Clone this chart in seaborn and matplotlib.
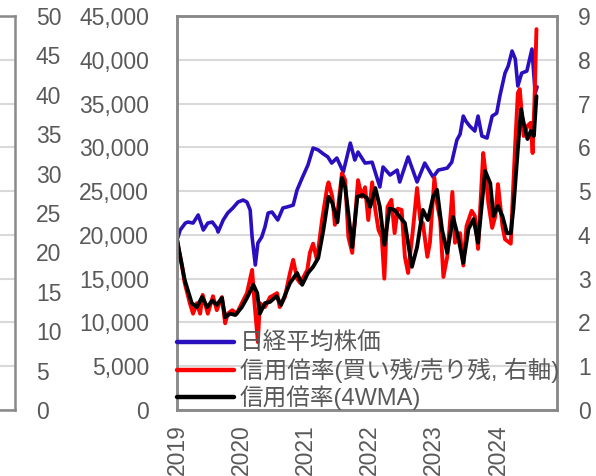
import matplotlib
matplotlib.use("Agg")
import matplotlib.pyplot as plt
import seaborn as sns
from matplotlib.ticker import FuncFormatter, MultipleLocator

sns.set_style("white")
plt.rcParams['font.family'] = ['Liberation Sans', 'Noto Sans CJK JP']

# ---- data (decimal year, value) ----
nikkei_t = [2019.01, 2019.05, 2019.13, 2019.17, 2019.25, 2019.33, 2019.41, 2019.48, 2019.55, 2019.62,
            2019.64, 2019.72, 2019.79, 2019.87, 2019.95, 2020.03, 2020.09, 2020.14, 2020.17, 2020.22,
            2020.26, 2020.32, 2020.37, 2020.42, 2020.48, 2020.57, 2020.65, 2020.72, 2020.81, 2020.87,
            2020.95, 2021.04, 2021.12, 2021.20, 2021.27, 2021.35, 2021.41, 2021.49, 2021.59, 2021.70,
            2021.77, 2021.82, 2021.93, 2022.04, 2022.16, 2022.21, 2022.32, 2022.43, 2022.47, 2022.60,
            2022.74, 2022.86, 2022.99, 2023.07, 2023.21, 2023.28, 2023.36, 2023.41, 2023.46, 2023.50,
            2023.56, 2023.64, 2023.69, 2023.75, 2023.83, 2023.91, 2023.98, 2024.03, 2024.11, 2024.16,
            2024.22, 2024.27, 2024.31, 2024.37, 2024.45, 2024.53, 2024.58, 2024.61]
nikkei_v = [19640, 20560, 21350, 21470, 21350, 22270, 20560, 21350, 21470, 20780,
            20330, 21700, 22500, 23070, 23750, 23980, 23750, 22840, 19760, 16560,
            19070, 19760, 20900, 22500, 22610, 21700, 23070, 23200, 23400, 25120,
            26500, 27980, 29920, 29700, 29300, 28900, 28200, 28780, 27180, 30490,
            28550, 29460, 28200, 28300, 25470, 27750, 26840, 27400, 26040, 28900,
            26040, 28200, 26600, 27400, 27630, 28300, 30830, 31500, 33570, 33000,
            32430, 31860, 33570, 31290, 31060, 33570, 33900, 35860, 38480, 39290,
            41000, 40090, 37000, 38480, 38710, 41230, 36200, 36900]

ratio_t = [2019.00, 2019.02, 2019.08, 2019.12, 2019.20, 2019.25, 2019.31, 2019.36, 2019.40, 2019.48,
           2019.56, 2019.62, 2019.70, 2019.75, 2019.79, 2019.86, 2019.93, 2020.01, 2020.09, 2020.17,
           2020.21, 2020.26, 2020.29, 2020.37, 2020.45, 2020.48, 2020.56, 2020.60, 2020.68, 2020.76,
           2020.81, 2020.87, 2020.92, 2021.03, 2021.07, 2021.12, 2021.18, 2021.26, 2021.34, 2021.36,
           2021.42, 2021.46, 2021.51, 2021.57, 2021.62, 2021.67, 2021.73, 2021.78, 2021.82, 2021.88,
           2021.93, 2021.98, 2022.04, 2022.09, 2022.14, 2022.19, 2022.23, 2022.28, 2022.34, 2022.39,
           2022.44, 2022.50, 2022.55, 2022.60, 2022.67, 2022.74, 2022.79, 2022.83, 2022.90, 2022.94,
           2023.01, 2023.05, 2023.10, 2023.15, 2023.21, 2023.29, 2023.33, 2023.41, 2023.46, 2023.51,
           2023.59, 2023.64, 2023.69, 2023.77, 2023.80, 2023.85, 2023.91, 2023.96, 2024.00, 2024.07,
           2024.11, 2024.20, 2024.23, 2024.27, 2024.31, 2024.34, 2024.40, 2024.46, 2024.51, 2024.54,
           2024.57, 2024.60]
ratio_v = [3.90, 3.72, 3.27, 2.90, 2.44, 2.20, 2.44, 2.20, 2.63, 2.20,
           2.60, 2.28, 2.58, 1.98, 2.20, 2.28, 2.20, 2.44, 2.67, 3.20,
           2.40, 1.55, 2.44, 2.35, 2.58, 2.60, 2.67, 2.35, 2.58, 3.13,
           3.43, 3.00, 2.90, 3.20, 3.59, 3.80, 3.43, 4.34, 5.09, 5.20,
           4.87, 4.23, 4.64, 5.41, 5.25, 3.95, 3.59, 4.50, 5.25, 4.87,
           5.09, 4.34, 5.20, 4.57, 4.11, 3.95, 3.00, 4.64, 4.80, 4.04,
           4.60, 4.57, 3.50, 3.13, 4.04, 5.07, 4.34, 4.27, 3.50, 3.82,
           5.30, 4.73, 4.34, 3.04, 3.50, 4.98, 3.82, 4.04, 3.30, 4.20,
           4.55, 4.43, 3.68, 5.87, 5.50, 4.73, 4.16, 4.43, 5.16, 4.20,
           3.90, 3.80, 4.84, 6.10, 7.24, 7.33, 6.26, 6.49, 6.56, 5.87,
           7.10, 8.70]

wma_t = [2019.00, 2019.12, 2019.23, 2019.31, 2019.39, 2019.47, 2019.55, 2019.62, 2019.70, 2019.75,
         2019.83, 2019.91, 2020.01, 2020.09, 2020.19, 2020.25, 2020.29, 2020.37, 2020.45, 2020.55,
         2020.62, 2020.76, 2020.87, 2020.95, 2021.04, 2021.12, 2021.20, 2021.28, 2021.36, 2021.42,
         2021.50, 2021.57, 2021.62, 2021.70, 2021.73, 2021.81, 2021.89, 2021.96, 2022.01, 2022.09,
         2022.16, 2022.23, 2022.31, 2022.39, 2022.47, 2022.55, 2022.66, 2022.74, 2022.83, 2022.91,
         2022.99, 2023.05, 2023.13, 2023.21, 2023.30, 2023.38, 2023.46, 2023.54, 2023.62, 2023.69,
         2023.80, 2023.88, 2023.93, 2024.00, 2024.07, 2024.14, 2024.20, 2024.24, 2024.31, 2024.36,
         2024.40, 2024.46, 2024.51, 2024.56, 2024.60]
wma_v = [3.90, 2.97, 2.44, 2.35, 2.58, 2.35, 2.50, 2.40, 2.56, 2.12,
         2.20, 2.17, 2.35, 2.56, 2.86, 2.67, 2.20, 2.44, 2.47, 2.60,
         2.40, 2.90, 3.13, 2.86, 3.13, 3.27, 3.47, 4.11, 4.87, 4.73,
         4.29, 5.30, 5.09, 4.11, 3.72, 4.87, 4.91, 4.84, 4.64, 5.07,
         4.64, 3.77, 4.60, 4.57, 4.41, 4.27, 3.27, 3.72, 4.57, 4.34,
         4.87, 5.03, 4.11, 3.59, 4.41, 3.95, 3.36, 4.13, 4.36, 3.82,
         5.46, 5.18, 4.43, 4.66, 4.43, 4.04, 4.04, 4.59, 5.96, 6.87,
         6.56, 6.19, 6.37, 6.26, 7.17]

year_ticks = [2019, 2020, 2021, 2022, 2023, 2024]
labels = ['日経平均株価', '信用倍率(買い残/売り残, 右軸)', '信用倍率(4WMA)']

# ---- styling ----
W, H = 596, 476
GRID = '#d9d9d9'
SPINE = '#898989'
TXT = '#595959'
BLUE = '#2a0fbf'

fig = plt.figure(figsize=(W / 100, H / 100), dpi=100)
L, R, B, T = 177 / W, 557 / W, 1 - 410 / H, 1 - 16 / H

# partial neighbouring chart at the left edge
axL = fig.add_axes([-0.3, B, 0.3 + 15 / W, T - B])
axL.set_ylim(0, 45000)
axL.yaxis.set_major_locator(MultipleLocator(5000))
axL.yaxis.grid(True, color=GRID, lw=1.5)
axL.set_xticks([])
axL.tick_params(axis='y', length=0, labelleft=False)
for s in axL.spines.values():
    s.set_color(SPINE); s.set_linewidth(1.8)
axLr = axL.twinx()
axLr.set_ylim(0, 50)
axLr.yaxis.set_major_locator(MultipleLocator(5))
axLr.tick_params(axis='y', length=0, pad=15, labelsize=16.5, labelcolor=TXT)
for s in axLr.spines.values():
    s.set_visible(False)

# main chart
ax = fig.add_axes([L, B, R - L, T - B])
ax2 = ax.twinx()

sns.lineplot(x=nikkei_t, y=nikkei_v, ax=ax, color=BLUE, lw=2.6)
h1 = ax.lines[-1]
sns.lineplot(x=ratio_t, y=ratio_v, ax=ax2, color='#ff0000', lw=2.8)
h2 = ax2.lines[-1]
sns.lineplot(x=wma_t, y=wma_v, ax=ax2, color='#000000', lw=2.8)
h3 = ax2.lines[-1]

ax.set_xlim(2019, 2024.92)
ax.set_ylim(0, 45000)
ax2.set_ylim(0, 9)
ax.yaxis.set_major_locator(MultipleLocator(5000))
ax2.yaxis.set_major_locator(MultipleLocator(1))
ax.yaxis.set_major_formatter(FuncFormatter(lambda v, p: f'{v:,.0f}'))
ax.set_xticks(year_ticks)
ax.set_xticklabels([str(y) for y in year_ticks])
ax.yaxis.grid(True, color=GRID, lw=1.5)
ax.xaxis.grid(False)
ax2.grid(False)
ax.set_xlabel(''); ax.set_ylabel(''); ax2.set_ylabel('')

ax.tick_params(axis='y', length=0, pad=20, labelsize=16.5, labelcolor=TXT)
ax2.tick_params(axis='y', length=0, pad=15, labelsize=16.5, labelcolor=TXT)
ax.tick_params(axis='x', length=5, width=1.5, color=SPINE, direction='out',
               labelsize=16.5, labelcolor=TXT, labelrotation=90, pad=5)
for a in (ax, ax2):
    for s in a.spines.values():
        s.set_color(SPINE); s.set_linewidth(1.8)

leg = ax2.legend([h1, h2, h3], labels, loc='lower left', bbox_to_anchor=(0, 0),
                 frameon=False, fontsize=17, borderpad=0, borderaxespad=0,
                 handlelength=2.4, handletextpad=0.25, labelspacing=0.1)
for t in leg.get_texts():
    t.set_color(TXT)
for lh in leg.get_lines():
    lh.set_linewidth(3.2)

fig.savefig('out.png', dpi=100)
